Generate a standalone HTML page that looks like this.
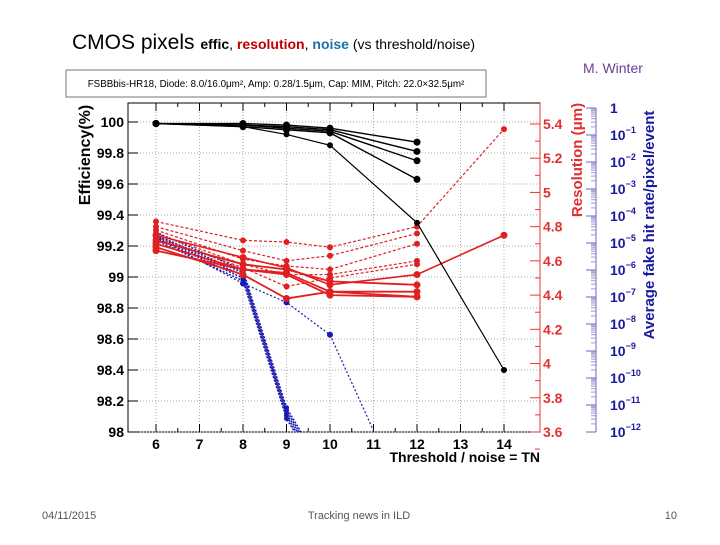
<!DOCTYPE html>
<html><head><meta charset="utf-8"><style>
body{margin:0;background:#fff;width:720px;height:540px;overflow:hidden;font-family:"Liberation Sans",sans-serif}
</style></head><body>
<svg id="c" width="720" height="540" xmlns="http://www.w3.org/2000/svg">
<text x="72" y="49" font-size="21" font-family="Liberation Sans">CMOS pixels <tspan font-size="14" font-weight="bold">effic</tspan><tspan font-size="14">, </tspan><tspan font-size="14" font-weight="bold" fill="#c00000">resolution</tspan><tspan font-size="14">, </tspan><tspan font-size="14" font-weight="bold" fill="#1f6fa8">noise</tspan><tspan font-size="14"> (vs threshold/noise)</tspan></text>
<text x="583" y="73" font-size="14" fill="#6a3d9a">M. Winter</text>
<rect x="66" y="70" width="420" height="27" fill="#fff" stroke="#777"/>
<text x="276" y="87" font-size="9.8" text-anchor="middle">FSBBbis-HR18, Diode: 8.0/16.0μm², Amp: 0.28/1.5μm, Cap: MIM, Pitch: 22.0×32.5μm²</text>
<text x="42" y="519" font-size="11" fill="#555">04/11/2015</text>
<text x="359" y="519" font-size="11" fill="#555" text-anchor="middle">Tracking news in ILD</text>
<text x="677" y="519" font-size="11" fill="#555" text-anchor="end">10</text>
<g id="g"></g>
</svg>
<script>
const xTicks=[6,7,8,9,10,11,12,13,14];
const effTicks=["100","99.8","99.6","99.4","99.2","99","98.8","98.6","98.4","98.2","98"];
const resTicks=["5.4","5.2","5","4.8","4.6","4.4","4.2","4","3.8","3.6"];
const logTicks=[0,-1,-2,-3,-4,-5,-6,-7,-8,-9,-10,-11,-12];
// efficiency series (black)
const effX=[6,8,9,10,12];
const effA=[99.99,99.99,99.98,99.96,99.87];
const effB=[99.99,99.98,99.97,99.95,99.81];
const effC=[99.99,99.98,99.96,99.94,99.75];
const effD=[99.99,99.97,99.95,99.93,99.63];
const effEx=[6,8,9,10,12,14];
const effE=[99.99,99.97,99.92,99.85,99.35,98.40];
// resolution series (red)
const resX=[6,8,9,10,12];
const resX14=[6,8,9,10,12,14];
const resD1=[4.83,4.72,4.71,4.68,4.80,5.37];
const resD2=[4.80,4.66,4.60,4.63,4.76];
const resD3=[4.78,4.61,4.57,4.55,4.70];
const resD4=[4.76,4.58,4.52,4.52,4.60];
const resD5=[4.74,4.56,4.45,4.50,4.58];
const resS1=[4.75,4.62,4.56,4.46,4.52,4.75];
const resS2=[4.72,4.58,4.55,4.48,4.46];
const resS3=[4.70,4.55,4.53,4.42,4.42];
const resS4=[4.68,4.52,4.38,4.42,4.39];
const resS5=[4.66,4.55,4.52,4.40,4.39];
// fake-hit rate (log10), blue
const fakeX=[6,8,9,10];
const fake1=[-4.6,-6.0,-11.1,-13.8];
const fake2=[-4.7,-6.1,-11.2,-13.9];
const fake3=[-4.75,-6.2,-11.3,-14.0];
const fake4=[-4.8,-6.3,-11.4,-14.1];
const fake5=[-4.9,-6.4,-11.5,-14.2];
const fake6X=[6,8,9,10,12];
const fake6=[-4.8,-6.5,-7.2,-8.4,-15.5];

const L=128,R=540,T=103,B=432;
const X=v=>156+(v-6)*43.5;
const YE=v=>122+(100-v)*155;
const YR=v=>124+(5.4-v)*171.1;
const YL=v=>108-v*27;
const g=document.getElementById('g');
const NS='http://www.w3.org/2000/svg';
function mk(t,a,p){const e=document.createElementNS(NS,t);for(const k in a)e.setAttribute(k,a[k]);(p||g).appendChild(e);return e;}
const defs=mk('defs',{});
const cp=mk('clipPath',{id:'cp'},defs);mk('rect',{x:L,y:T,width:R-L,height:B-T},cp);
mk('rect',{x:L,y:T,width:R-L,height:B-T,fill:'#fff',stroke:'#000'});
// grid
xTicks.forEach(v=>{const l=mk('line',{x1:X(v),x2:X(v),y1:T,y2:B,stroke:'#aaa','stroke-dasharray':'1,2'});

const t=mk('text',{x:X(v),y:B+17,'font-size':14,'font-weight':'bold','text-anchor':'middle'});t.textContent=v;

mk('line',{x1:X(v),x2:X(v),y1:B,y2:B-8,stroke:'#000'});mk('line',{x1:X(v),x2:X(v),y1:T,y2:T+8,stroke:'#000'});
if(v<14){mk('line',{x1:X(v+0.5),x2:X(v+0.5),y1:B,y2:B-4,stroke:'#000'});mk('line',{x1:X(v+0.5),x2:X(v+0.5),y1:T,y2:T+4,stroke:'#000'});}});
effTicks.forEach(s=>{const v=+s,y=YE(v);mk('line',{x1:L,x2:R,y1:y,y2:y,stroke:'#aaa','stroke-dasharray':'1,2'});
mk('line',{x1:L,x2:L+10,y1:y,y2:y,stroke:'#000'});
const t=mk('text',{x:L-4,y:y+5,'font-size':14,'font-weight':'bold','text-anchor':'end'});t.textContent=s;
});
// resolution axis
mk('line',{x1:R,x2:R,y1:T,y2:B,stroke:'#e33'});
resTicks.forEach(s=>{const y=YR(+s);mk('line',{x1:R,x2:R-10,y1:y,y2:y,stroke:'#e33'});
mk('line',{x1:R,x2:R-5,y1:YR(+s-0.1),y2:YR(+s-0.1),stroke:'#e33'});
const t=mk('text',{x:R+3,y:y+5,'font-size':14,'font-weight':'bold',fill:'#e03030'});t.textContent=s;
});
// log axis
const LX=596;mk('line',{x1:LX,x2:LX,y1:YL(0),y2:YL(-12),stroke:'#66c'});
logTicks.forEach(v=>{const y=YL(v);mk('line',{x1:LX,x2:LX-10,y1:y,y2:y,stroke:'#66c'});
if(v>-12)for(let k=2;k<10;k++){const yy=YL(v-1+Math.log10(k));mk('line',{x1:LX,x2:LX-5,y1:yy,y2:yy,stroke:'#99c'});}
const t=mk('text',{x:LX+14,y:y+5,'font-size':14,'font-weight':'bold',fill:'#1a1aa0'});
if(v===0)t.textContent='1';else{t.textContent='10';const ts=mk('tspan',{dy:-7,'font-size':9},t);ts.textContent=String(v).replace('-','−');}
});
// axis titles
let t=mk('text',{transform:'translate(90,155) rotate(-90)','font-size':16,'font-weight':'bold','text-anchor':'middle'});t.textContent='Efficiency(%)';

t=mk('text',{x:540,y:462,'font-size':14,'font-weight':'bold','text-anchor':'end'});t.textContent='Threshold / noise = TN';

t=mk('text',{transform:'translate(582,160) rotate(-90)','font-size':15,'font-weight':'bold','text-anchor':'middle',fill:'#e03030'});t.textContent='Resolution (μm)';

t=mk('text',{transform:'translate(654,225) rotate(-90)','font-size':15,'font-weight':'bold','text-anchor':'middle',fill:'#1a1aa0'});t.textContent='Average fake hit rate/pixel/event';

// series
const pg=mk('g',{'clip-path':'url(#cp)'});
function series(xs,ys,Y,col,dash,w,name,mr){
 const p=mk('polyline',{points:xs.map((x,i)=>X(x)+','+Y(ys[i])).join(' '),fill:'none',stroke:col,'stroke-width':w,'stroke-dasharray':dash||''},pg);
 
 xs.forEach((x,i)=>{const c=mk('circle',{cx:X(x),cy:Y(ys[i]),r:mr,fill:col},pg);
 });}
const BL='#1a1ab0';
[fake1,fake2,fake3,fake4,fake5].forEach((s,i)=>series(fakeX,s,YL,BL,'2,1.5',1.5,'fake-rate-series-'+(i+1),2.5));
series(fake6X,fake6,YL,BL,'2,2',1.2,'fake-rate-series-6',3);
const RD='#e02020';
[resD1].forEach(s=>series(resX14,s,YR,RD,'3,2',1.2,'resolution-dashed-1',3));
[resD2,resD3,resD4,resD5].forEach((s,i)=>series(resX,s,YR,RD,'3,2',1.2,'resolution-dashed-'+(i+2),3));
series(resX14,resS1,YR,RD,'',1.6,'resolution-solid-1',3.5);
[resS2,resS3,resS4,resS5].forEach((s,i)=>series(resX,s,YR,RD,'',1.8,'resolution-solid-'+(i+2),3.5));
[effA,effB,effC,effD].forEach((s,i)=>series(effX,s,YE,'#000','',1.4,'efficiency-series-'+(i+1),3.5));
series(effEx,effE,YE,'#000','',1.2,'efficiency-series-5',3);
</script>
</body></html>
